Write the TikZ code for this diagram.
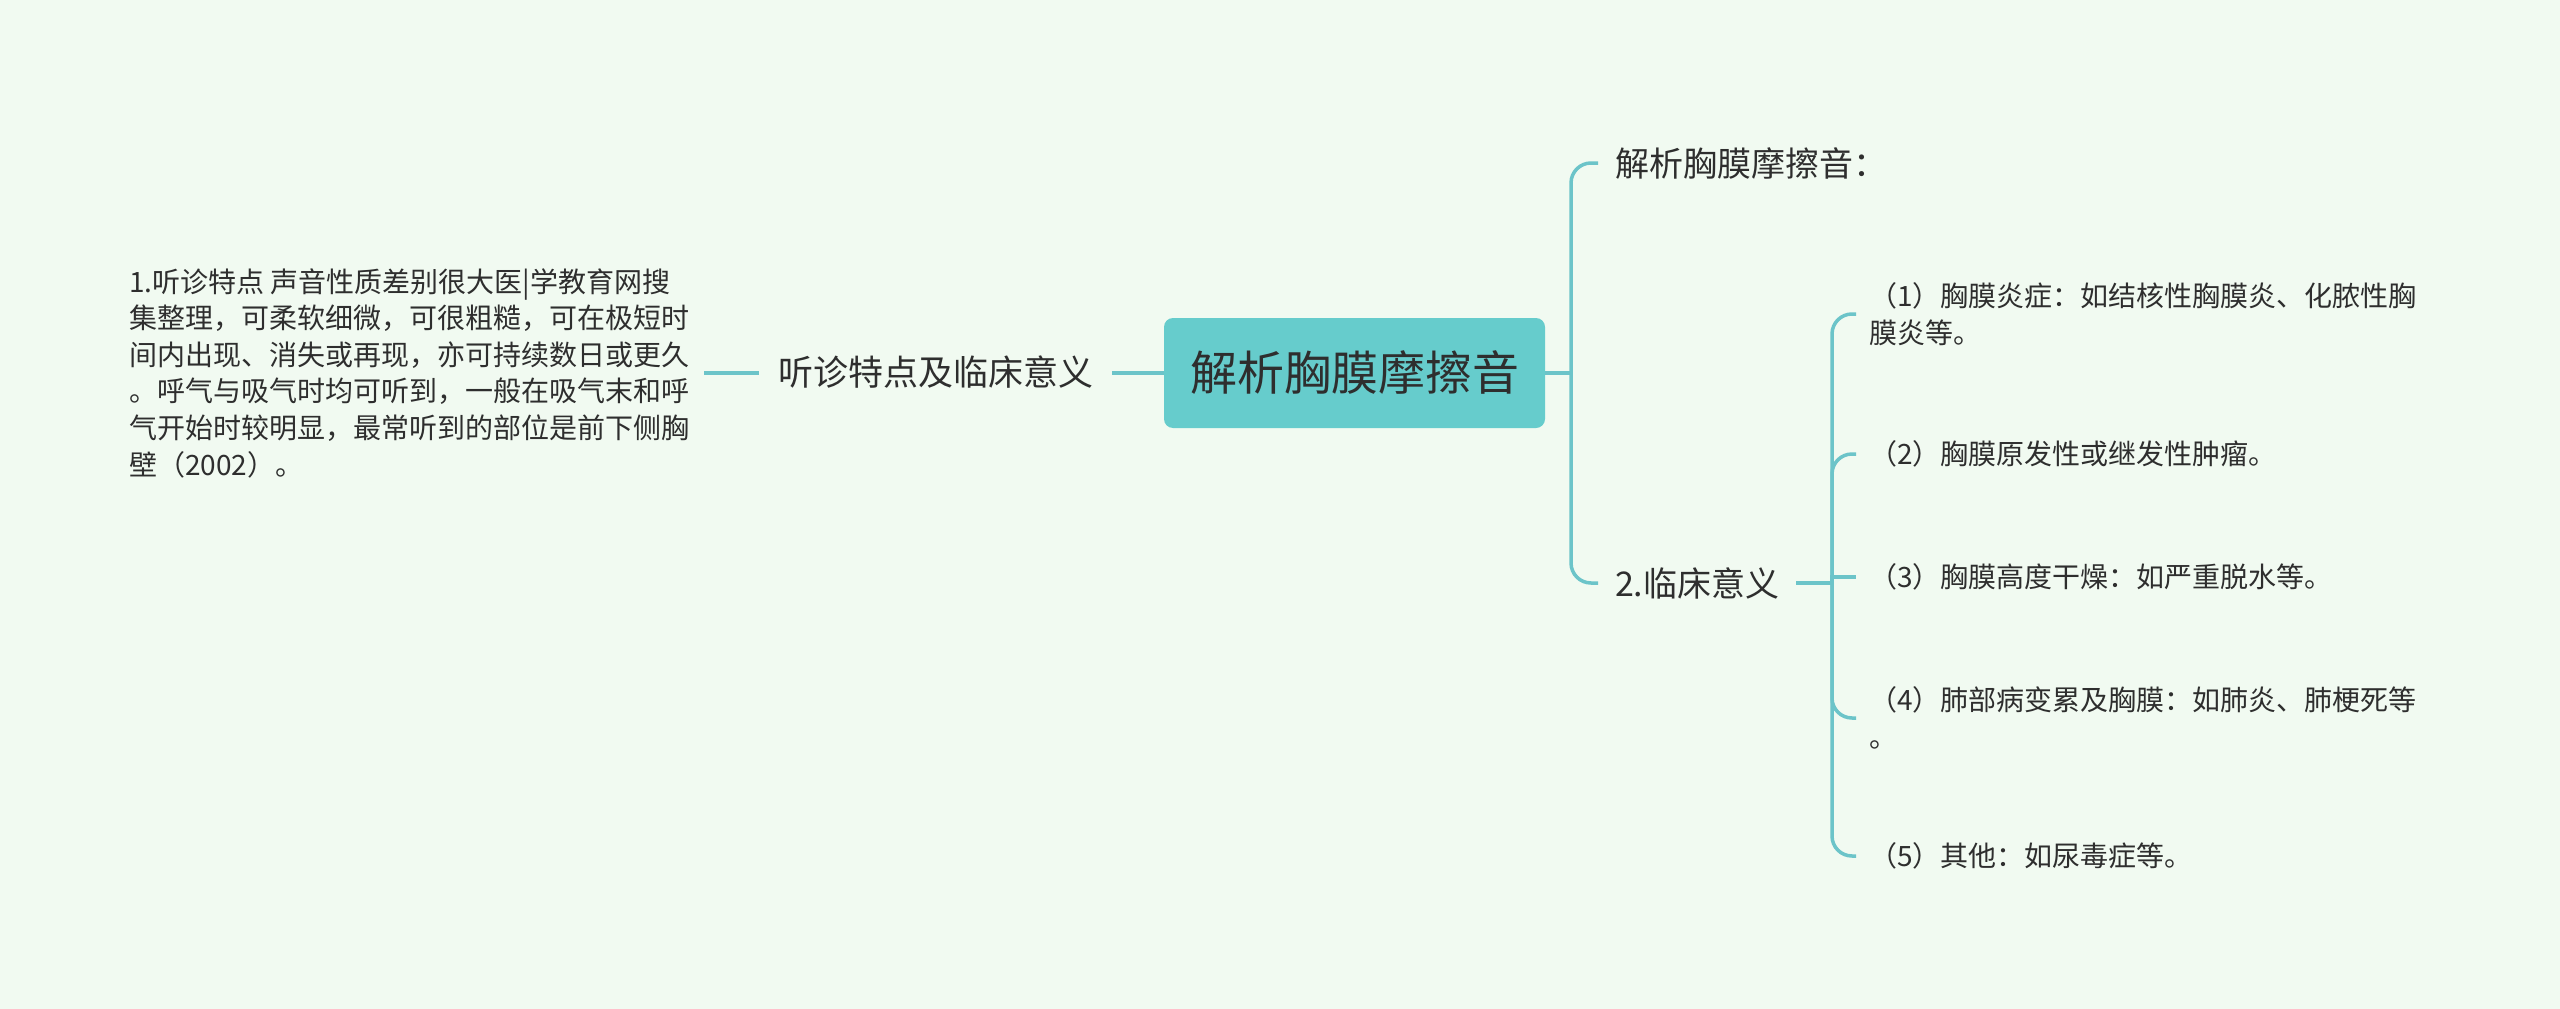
\documentclass[tikz,border=0pt]{standalone}
\usepackage{fontspec}
\setmainfont{Noto Sans CJK SC}
\definecolor{bgmint}{HTML}{F1FAF1}
\definecolor{rootteal}{HTML}{66CCCC}
\definecolor{linkteal}{HTML}{6CC4C9}
\definecolor{inkgray}{HTML}{2E2E2E}
\tikzset{
  root/.style={fill=rootteal, rounded corners=9pt, minimum width=381pt, minimum height=110pt, inner sep=0pt, text=inkgray, font=\fontsize{47}{56}\selectfont},
  branch/.style={inner sep=0pt, outer xsep=17pt, text=inkgray, font=\fontsize{34}{40}\selectfont},
  leaf/.style={inner sep=0pt, outer xsep=13pt, text=inkgray, align=left, font=\fontsize{28}{37}\selectfont},
  link/.style={draw=linkteal, line width=3.5pt, rounded corners=20pt}
}
\begin{document}
\begin{tikzpicture}[x=1pt,y=-1pt]
\fill[bgmint] (0,0) rectangle (2560,1009);
\useasboundingbox (0,0) rectangle (2560,1009);
\node[root] (rub) at (1354.5,373) {解析胸膜摩擦音};
\node[branch, anchor=east, outer xsep=19pt, font=\fontsize{35}{40}\selectfont] (feat) at (1112,372) {听诊特点及临床意义};
\node[leaf, anchor=east, outer xsep=15pt, font=\fontsize{28}{36.6}\selectfont] (hear) at (704,373) {1.听诊特点 声音性质差别很大医|学教育网搜\\集整理，可柔软细微，可很粗糙，可在极短时\\间内出现、消失或再现，亦可持续数日或更久\\。呼气与吸气时均可听到，一般在吸气末和呼\\气开始时较明显，最常听到的部位是前下侧胸\\壁（2002）。};
\draw[link] (rub.west) -- (rub.west -| feat.east);
\draw[link] (rub.west -| feat.west) -- (rub.west -| hear.east);
\coordinate (rfork) at (1571,373);
\node[branch, anchor=west] (parse) at (1598,163) {解析胸膜摩擦音：};
\node[branch, anchor=west] (clin) at (1598,583) {2.临床意义};
\draw[link] (rub.east) -- (rfork);
\draw[link] (rfork) |- (parse.west);
\draw[link] (rfork) |- (clin.west);
\coordinate (sfork) at (1832,583);
\node[leaf, anchor=west] (c1) at (1856,314) {（1）胸膜炎症：如结核性胸膜炎、化脓性胸\\膜炎等。};
\node[leaf, anchor=west] (c2) at (1856,454) {（2）胸膜原发性或继发性肿瘤。};
\node[leaf, anchor=west] (c3) at (1856,577) {（3）胸膜高度干燥：如严重脱水等。};
\node[leaf, anchor=west] (c4) at (1856,718) {（4）肺部病变累及胸膜：如肺炎、肺梗死等\\。};
\node[leaf, anchor=west] (c5) at (1856,856) {（5）其他：如尿毒症等。};
\draw[link] (sfork -| clin.east) -- (sfork);
\foreach \item in {c1,c2,c4,c5}
  \draw[link] (sfork) |- (\item.west);
\draw[link, sharp corners] (sfork) |- (c3.west);
\end{tikzpicture}
\end{document}
